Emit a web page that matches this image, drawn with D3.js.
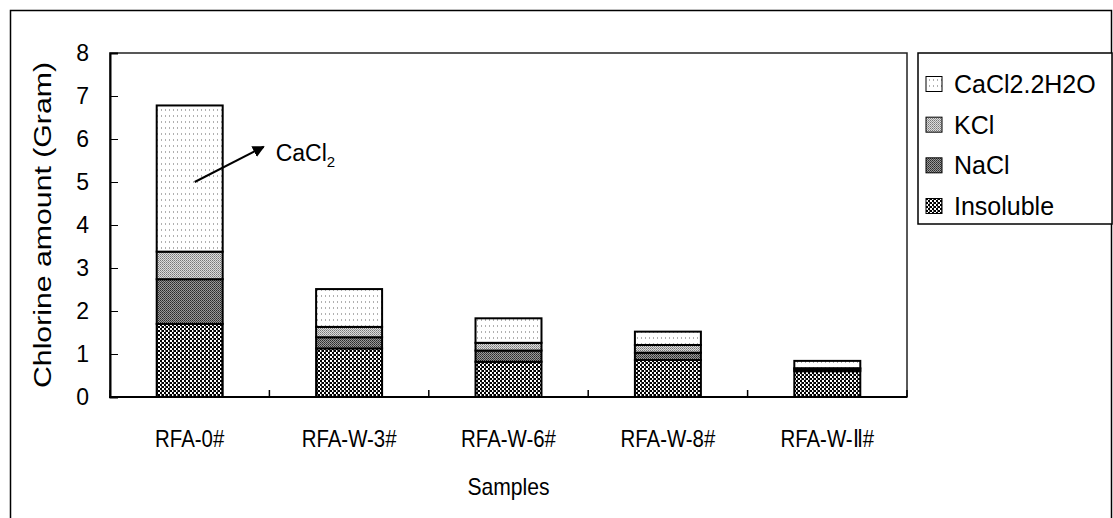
<!DOCTYPE html>
<html>
<head>
    <meta charset="utf-8">
    <title>Chlorine amount</title>
    <script src="https://d3js.org/d3.v7.min.js"></script>
    <style>
        body {
            margin: 0;
            background: #fff;
            font-family: 'Liberation Sans', Arial, sans-serif;
        }
        text {
            fill: #000;
        }
    </style>
</head>
<body>
    <div id="chart"></div>
    <script>
        const samples = ["RFA-0#", "RFA-W-3#", "RFA-W-6#", "RFA-W-8#", "RFA-W-\u2161#"]
        const insoluble = [1.70, 1.13, 0.82, 0.86, 0.60]
        const nacl = [1.04, 0.26, 0.26, 0.17, 0.04]
        const kcl = [0.64, 0.24, 0.18, 0.18, 0.03]
        const cacl2 = [3.40, 0.88, 0.57, 0.31, 0.17]
        const seriesNames = ["Insoluble", "NaCl", "KCl", "CaCl2.2H2O"]
        const yTicks = [0, 1, 2, 3, 4, 5, 6, 7, 8]

        const w = 1113, h = 518
        const plot = { left: 110, right: 907, top: 53, bottom: 397 }

        const rows = samples.map((s, i) => ({
            sample: s,
            "Insoluble": insoluble[i],
            "NaCl": nacl[i],
            "KCl": kcl[i],
            "CaCl2.2H2O": cacl2[i]
        }))
        const stacked = d3.stack().keys(seriesNames)(rows)

        const x = d3.scaleBand()
            .domain(samples)
            .range([plot.left, plot.right])
            .paddingInner(0.586)
            .paddingOuter(0.293)
        const y = d3.scaleLinear().domain([0, 8]).range([plot.bottom, plot.top])

        const svg = d3.select("#chart").append("svg")
            .attr("width", w)
            .attr("height", h)

        // fill patterns, mimicking the Excel black & white fills
        const defs = svg.append("defs")
        function pattern(id, size, draw) {
            const p = defs.append("pattern")
                .attr("id", id)
                .attr("patternUnits", "userSpaceOnUse")
                .attr("width", size[0])
                .attr("height", size[1])
            p.append("rect").attr("width", size[0]).attr("height", size[1]).attr("fill", "#fff")
            draw(p)
        }
        pattern("p-cacl2", [4, 6], p => {
            p.append("rect").attr("x", 1).attr("y", 1).attr("width", 1).attr("height", 2).attr("fill", "#b0b0b0")
        })
        pattern("p-kcl", [2, 2], p => {
            p.append("rect").attr("width", 2).attr("height", 2).attr("fill", "#dcdcdc")
            p.append("rect").attr("x", 0).attr("y", 0).attr("width", 1).attr("height", 1).attr("fill", "#777")
            p.append("rect").attr("x", 1).attr("y", 1).attr("width", 1).attr("height", 1).attr("fill", "#999")
        })
        pattern("p-nacl", [2, 2], p => {
            p.append("rect").attr("width", 2).attr("height", 2).attr("fill", "#9a9a9a")
            p.append("rect").attr("x", 0).attr("y", 0).attr("width", 1).attr("height", 1).attr("fill", "#2a2a2a")
            p.append("rect").attr("x", 1).attr("y", 1).attr("width", 1).attr("height", 1).attr("fill", "#444")
        })
        pattern("p-insol", [4, 4], p => {
            p.append("rect").attr("x", 0).attr("y", 0).attr("width", 2).attr("height", 2).attr("fill", "#000")
            p.append("rect").attr("x", 2).attr("y", 2).attr("width", 2).attr("height", 2).attr("fill", "#000")
            p.append("rect").attr("x", 1).attr("y", 2).attr("width", 1).attr("height", 2).attr("fill", "#666")
        })
        const fills = {
            "Insoluble": "url(#p-insol)",
            "NaCl": "url(#p-nacl)",
            "KCl": "url(#p-kcl)",
            "CaCl2.2H2O": "url(#p-cacl2)"
        }

        // narrow text, like the stretched Excel export
        function condense(sel, k) {
            sel.each(function () {
                const len = this.getComputedTextLength()
                d3.select(this).attr("textLength", len * k).attr("lengthAdjust", "spacingAndGlyphs")
            })
        }

        // outer chart border
        svg.append("rect")
            .attr("x", 10.5).attr("y", 10.5)
            .attr("width", 1101).attr("height", 540)
            .attr("fill", "none").attr("stroke", "#000").attr("stroke-width", 1.5)

        // plot area frame
        svg.append("rect")
            .attr("x", plot.left).attr("y", plot.top)
            .attr("width", plot.right - plot.left).attr("height", plot.bottom - plot.top)
            .attr("fill", "none").attr("stroke", "#222").attr("stroke-width", 1.5)

        // bars
        svg.append("g")
            .selectAll("g")
            .data(stacked)
            .join("g")
            .attr("fill", d => fills[d.key])
            .selectAll("rect")
            .data(d => d)
            .join("rect")
            .attr("x", d => x(d.data.sample))
            .attr("y", d => y(d[1]))
            .attr("width", x.bandwidth())
            .attr("height", d => y(d[0]) - y(d[1]))
            .attr("stroke", "#000")
            .attr("stroke-width", 2)

        // y axis: ticks point inward
        const yAxis = d3.axisRight(y).tickValues(yTicks).tickSize(8).tickFormat("")
        svg.append("g")
            .attr("transform", `translate(${plot.left},0)`)
            .call(yAxis)
            .call(g => g.select(".domain").attr("stroke-width", 2))
        svg.append("g")
            .selectAll("text")
            .data(yTicks)
            .join("text")
            .attr("x", 89)
            .attr("y", d => y(d))
            .attr("dy", "0.36em")
            .attr("text-anchor", "end")
            .style("font-size", "23px")
            .text(d => d)

        // x axis: tick marks between categories
        const bounds = d3.range(samples.length + 1).map(i => plot.left + i * x.step())
        svg.append("g")
            .selectAll("line")
            .data(bounds)
            .join("line")
            .attr("x1", d => d).attr("x2", d => d)
            .attr("y1", plot.bottom).attr("y2", plot.bottom - 7)
            .attr("stroke", "#000").attr("stroke-width", 1.5)
        svg.append("line")
            .attr("x1", plot.left - 1).attr("x2", plot.right)
            .attr("y1", plot.bottom).attr("y2", plot.bottom)
            .attr("stroke", "#000").attr("stroke-width", 2)
        svg.append("g")
            .selectAll("text")
            .data(samples)
            .join("text")
            .attr("x", d => x(d) + x.bandwidth() / 2)
            .attr("y", 447)
            .attr("text-anchor", "middle")
            .style("font-size", "24px")
            .text(d => d)
            .call(condense, 0.85)

        // axis titles
        svg.append("text")
            .attr("x", (plot.left + plot.right) / 2)
            .attr("y", 495)
            .attr("text-anchor", "middle")
            .style("font-size", "24px")
            .text("Samples")
            .call(condense, 0.88)
        svg.append("text")
            .attr("transform", `translate(51,${(plot.top + plot.bottom) / 2}) rotate(-90)`)
            .attr("text-anchor", "middle")
            .attr("textLength", 326)
            .attr("lengthAdjust", "spacingAndGlyphs")
            .style("font-size", "23px")
            .text("Chlorine amount (Gram)")

        // annotation arrow
        defs.append("marker")
            .attr("id", "arrow")
            .attr("viewBox", "0 0 10 10")
            .attr("refX", 9).attr("refY", 5)
            .attr("markerWidth", 6).attr("markerHeight", 6)
            .attr("orient", "auto")
            .append("path").attr("d", "M0,0 L10,5 L0,10 z").attr("fill", "#000")
        const x0 = x(samples[0]) + x.bandwidth() / 2
        svg.append("line")
            .attr("x1", x0 + 5).attr("y1", y(5.0))
            .attr("x2", x0 + 74).attr("y2", y(5.82))
            .attr("stroke", "#000").attr("stroke-width", 2)
            .attr("marker-end", "url(#arrow)")
        const ann = svg.append("text")
            .attr("x", x0 + 86).attr("y", y(5.5))
            .style("font-size", "23px")
        ann.append("tspan").text("CaCl")
        ann.append("tspan").attr("dy", 6).style("font-size", "15px").text("2")

        // legend
        const legend = svg.append("g").attr("id", "legend")
        legend.append("rect")
            .attr("x", 918).attr("y", 53)
            .attr("width", 194).attr("height", 171)
            .attr("fill", "#fff").attr("stroke", "#000").attr("stroke-width", 1.5)
        const legendItems = seriesNames.slice().reverse()
        const ly = d3.scalePoint().domain(legendItems).range([84, 206])
        legend.selectAll("rect.sw")
            .data(legendItems)
            .join("rect")
            .attr("class", "sw")
            .attr("x", 926).attr("y", d => ly(d) - 7.5)
            .attr("width", 16).attr("height", 15)
            .attr("fill", d => fills[d])
            .attr("stroke", "#000").attr("stroke-width", 1)
        legend.selectAll("text")
            .data(legendItems)
            .join("text")
            .attr("x", 954).attr("y", d => ly(d))
            .attr("dy", "0.36em")
            .style("font-size", "25px")
            .text(d => d)
    </script>
</body>
</html>
